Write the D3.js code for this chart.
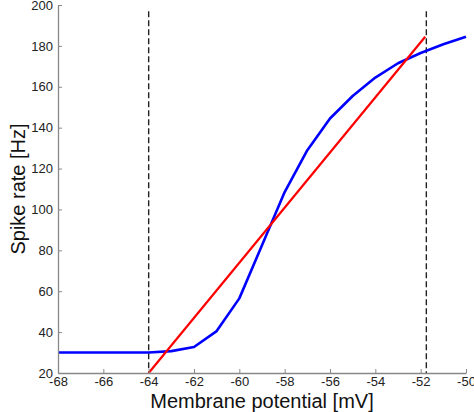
<!DOCTYPE html>
<html lang="en">
<head>
  <meta charset="UTF-8">
  <title>Spike rate vs membrane potential</title>
  <script src="https://cdn.jsdelivr.net/npm/d3@7"></script>
  <style>
    body { margin: 0; background: #fff; }
    text { font-family: "Liberation Sans", Arial, sans-serif; }
  </style>
</head>
<body>
  <script>

  // size of the page
  var w = 474;
  var h = 412;
  var margin = {top: 5, right: 8, bottom: 39, left: 58};

  // blue curve: spike rate measured at each potential
  var potential = [-68, -67, -66, -65, -64, -63, -62, -61, -60, -59, -58, -57, -56, -55, -54, -53, -52, -51, -50];
  var rate      = [30, 30, 30, 30, 30, 30.7, 32.7, 40.5, 56.5, 82.5, 108.5, 129, 144.5, 155.5, 164.5, 171.5, 176.5, 180.8, 184.5];

  // red line: linear fit between the two dashed bounds
  var fitX = [-64, -51.8];
  var fitY = [20, 184.5];

  // dashed bounds
  var bounds = [-64, -51.75];

  var xTicks = [-68, -66, -64, -62, -60, -58, -56, -54, -52, -50];
  var yTicks = [20, 40, 60, 80, 100, 120, 140, 160, 180, 200];

  var xScale = d3.scaleLinear()
                 .domain([-68, -50])
                 .range([margin.left, w - margin.right]);
  var yScale = d3.scaleLinear()
                 .domain([20, 200])
                 .range([h - margin.bottom, margin.top]);

  // plain hyphen for negatives, like the original figure
  var plain = function(d) { return String(d); };

  var svg = d3.select("body")
              .append("svg")
              .attr("width", w)
              .attr("height", h);

  // dashed vertical lines
  svg.selectAll("line.bound")
     .data(bounds)
     .enter()
     .append("line")
     .attr("class", "bound")
     .attr("x1", function(d) { return xScale(d); })
     .attr("x2", function(d) { return xScale(d); })
     .attr("y1", yScale(197))
     .attr("y2", yScale(20))
     .attr("stroke", "#222")
     .attr("stroke-width", 1.4)
     .attr("stroke-dasharray", "6,3");

  var line = d3.line()
               .x(function(d) { return xScale(d[0]); })
               .y(function(d) { return yScale(d[1]); });

  // blue curve
  svg.append("path")
     .datum(d3.zip(potential, rate))
     .attr("d", line)
     .attr("fill", "none")
     .attr("stroke", "#0000ff")
     .attr("stroke-width", 2.6)
     .attr("stroke-linejoin", "round");

  // red fit
  svg.append("path")
     .datum(d3.zip(fitX, fitY))
     .attr("d", line)
     .attr("fill", "none")
     .attr("stroke", "#ff0000")
     .attr("stroke-width", 2.2);

  // axes, ticks pointing inward
  var xAxis = d3.axisBottom(xScale)
                .tickValues(xTicks)
                .tickFormat(plain)
                .tickSizeInner(-4)
                .tickSizeOuter(0)
                .tickPadding(4);
  var yAxis = d3.axisLeft(yScale)
                .tickValues(yTicks)
                .tickFormat(plain)
                .tickSizeInner(-4)
                .tickSizeOuter(0)
                .tickPadding(5);

  var gx = svg.append("g")
              .attr("transform", "translate(0," + (h - margin.bottom) + ")")
              .call(xAxis);
  var gy = svg.append("g")
              .attr("transform", "translate(" + margin.left + ",0)")
              .call(yAxis);

  [gx, gy].forEach(function(g) {
    g.select(".domain").attr("stroke", "#888").attr("stroke-width", 1.3);
    g.selectAll(".tick line").attr("stroke", "#888").attr("stroke-width", 1);
    g.selectAll(".tick text")
     .attr("fill", "#222")
     .style("font-size", "13px")
     .style("font-family", "'Liberation Sans', Arial, sans-serif");
  });

  // axis labels
  svg.append("text")
     .attr("x", (margin.left + w - margin.right) / 2)
     .attr("y", h - 4)
     .style("text-anchor", "middle")
     .style("font-size", "20px")
     .attr("fill", "#111")
     .text("Membrane potential [mV]");

  svg.append("text")
     .attr("transform", "translate(25," + ((h - margin.bottom + margin.top) / 2) + ") rotate(-90)")
     .style("text-anchor", "middle")
     .style("font-size", "20px")
     .attr("fill", "#111")
     .text("Spike rate [Hz]");

  </script>
</body>
</html>
